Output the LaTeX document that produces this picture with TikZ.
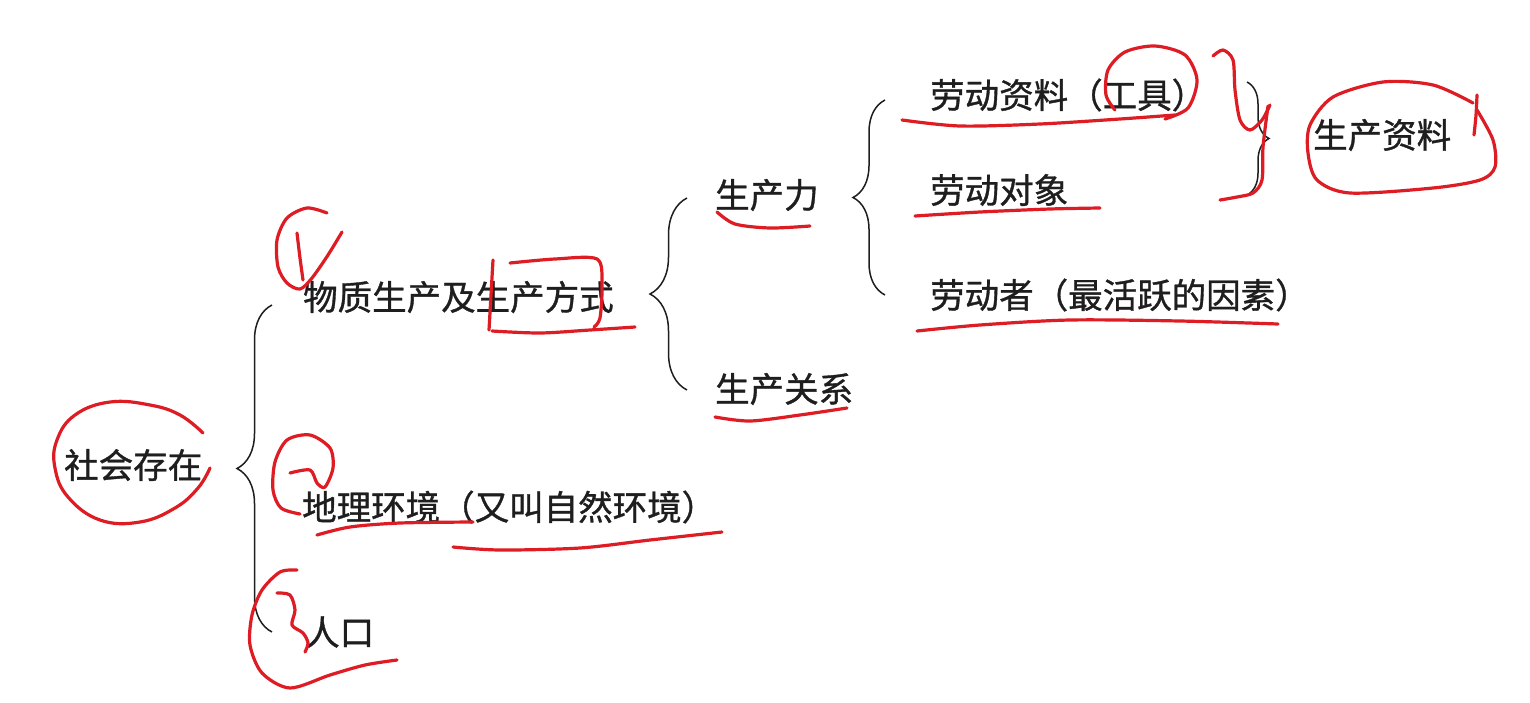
\documentclass[tikz,border=0pt]{standalone}
\usepackage{fontspec}
\newfontfamily\cjk[FakeBold=1]{Noto Sans CJK SC}
\usetikzlibrary{decorations.pathreplacing}
\definecolor{pen}{RGB}{222,28,36}
\definecolor{ink}{RGB}{30,30,30}
\begin{document}
\begin{tikzpicture}[x=1pt,y=-1pt,
  lbl/.style={anchor=west,inner sep=0pt,font=\cjk\fontsize{34.5}{40}\selectfont,text=ink},
  brc/.style={draw=ink,line width=1.5pt,decorate,decoration={brace,amplitude=#1}},
  redpen/.style={draw=pen,line width=3.2pt,line cap=round,line join=round}]
\useasboundingbox (0,0) rectangle (1530,702);
\fill[white] (0,0) rectangle (1530,702);
% texts
\node[lbl] (sh) at (64,465) {社会存在};
\node[lbl] (wz) at (303,297) {物质生产及生产方式};
\node[lbl] (dl) at (302,507) {地理环境（又叫自然环境）};
\node[lbl] (rk) at (305,632) {人口};
\node[lbl] (scl) at (715,195) {生产力};
\node[lbl] (scg) at (715,389) {生产关系};
\node[lbl] (ldzl) at (930,95) {劳动资料（工具）};
\node[lbl] (lddx) at (930,190) {劳动对象};
\node[lbl] (ldz) at (930,295) {劳动者（最活跃的因素）};
\node[lbl] (sczl) at (1313,135) {生产资料};
% brace end points
\coordinate (b1t) at (272,305); \coordinate (b1b) at (272,632);
\coordinate (b2t) at (687,198); \coordinate (b2b) at (687,390);
\coordinate (b3t) at (885,100); \coordinate (b3b) at (885,295);
\coordinate (b4t) at (1247,82); \coordinate (b4b) at (1247,195);
\draw[brc=35pt] (b1b) -- (b1t);
\draw[brc=37pt] (b2b) -- (b2t);
\draw[brc=32pt] (b3b) -- (b3t);
\draw[brc=22pt] (b4t) -- (b4b);
% red hand marks
\draw[redpen] plot[smooth,tension=0.7] coordinates {(203,433)(180,415)(150,405)(110,402)(75,415)(57,440)(55,468)(68,497)(100,520)(140,522)(175,508)(198,488)(210,468)};
\draw[redpen] plot[smooth] coordinates {(327,213)(307,208)(287,218)(277,240)(278,267)(287,283)(300,289)(312,278)(328,255)(342,232)};
\draw[redpen] plot[smooth] coordinates {(297,233)(300,258)(303,280)};
\draw[redpen] (493,260) -- (489,330);
\draw[redpen] plot[smooth] coordinates {(492,331)(540,333)(590,330)(635,327)};
\draw[redpen] plot[smooth] coordinates {(510,263)(555,259)(597,259)(602,285)(600,318)(594,327)};
\draw[redpen] plot[smooth] coordinates {(717,212)(735,224)(770,228)(810,226)};
\draw[redpen] plot[smooth] coordinates {(715,417)(750,421)(800,415)(847,408)};
\draw[redpen] plot[smooth] coordinates {(902,120)(960,126)(1040,124)(1120,119)(1175,115)};
\draw[redpen] plot[smooth] coordinates {(1165,119)(1188,108)(1197,80)(1185,55)(1155,46)(1125,52)(1108,70)(1106,95)(1115,110)};
\draw[redpen] plot[smooth] coordinates {(915,216)(980,212)(1050,209)(1100,208)};
\draw[redpen] plot[smooth] coordinates {(917,331)(980,325)(1070,320)(1180,321)(1278,324)};
\draw[redpen] plot[smooth] coordinates {(1213,56)(1223,50)(1233,60)(1235,90)(1240,120)(1250,130)(1262,120)(1270,105)};
\draw[redpen] plot[smooth] coordinates {(1268,106)(1263,147)(1262,180)(1253,193)(1237,197)(1220,200)};
\draw[redpen] plot[smooth] coordinates {(1477,95)(1476,115)(1474,135)};
\draw[redpen] plot[smooth] coordinates {(1473,103)(1433,85)(1383,82)(1333,97)(1310,125)(1308,153)(1317,180)(1350,193)(1433,188)(1480,180)(1495,167)(1493,140)(1477,110)};
\draw[redpen] plot[smooth] coordinates {(290,473)(310,470)(317,483)(325,487)(333,468)(330,448)(310,435)(287,440)(275,462)(273,490)(281,508)(300,514)};
\draw[redpen] plot[smooth] coordinates {(317,535)(350,527)(400,523)(473,522)};
\draw[redpen] plot[smooth] coordinates {(453,547)(500,550)(580,548)(650,540)(722,532)};
\draw[redpen] plot[smooth] coordinates {(277,593)(290,595)(295,610)(292,625)(303,633)(308,643)(305,652)};
\draw[redpen] plot[smooth] coordinates {(297,570)(280,572)(262,590)(252,615)(250,645)(262,673)(290,688)(330,675)(365,665)(397,660)};
\end{tikzpicture}
\end{document}
